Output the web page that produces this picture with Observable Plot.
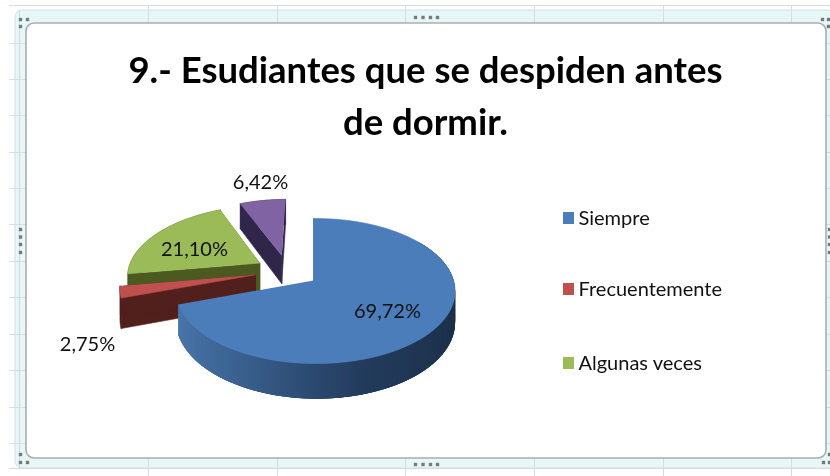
<!DOCTYPE html>
<html><head><meta charset="utf-8">
<style>html,body{margin:0;padding:0;background:#fff}svg{display:block;filter:blur(.45px)}</style>
<script src="https://cdn.jsdelivr.net/npm/d3@7"></script>
<script src="https://cdn.jsdelivr.net/npm/@observablehq/plot@0.6"></script>
</head><body><script>
// Data
const categories = ["Siempre", "Frecuentemente", "Algunas veces", ""];
const values = [69.72, 2.75, 21.10, 6.42];
const labels = ["69,72%", "2,75%", "21,10%", "6,42%"];
const titleLines = ["9.- Esudiantes que se despiden antes", "de dormir."];
const legendNames = categories.slice(0, 3);

// Styles
const topColors = ["#4b7dba", "#c0504d", "#9bbb59", "#7f63a3"];
const wallColors = ["#2f5079", "#511f1c", "#4a5a20", "#30264a"];
const font = "Lato, Carlito, sans-serif";

// Layout of the tilted pie (view projection of a unit disc)
const view = {x0: 313, y0: 280, c: 138, a: 71, b: 0.145, d: -0.015, h: 30, explode: 0.24};
const labelAt = [[387, 311], [87, 344], [194, 249], [260, 182]];
const legendY = [218, 289, 363];
const gridX = [148, 277, 405, 534, 663, 791];
const gridY = [5, 43, 79, 115, 152, 188, 224, 261, 297, 334, 370, 407, 443, 468];
const handleMid = [415, 422.5, 430, 437];
const handleSide = [229, 236.5, 244, 252];
const handleCorners = [[20,19],[27,19],[20,26],[822,19],[828,19],[828,26],[823,462],[829,462],[829,454],[20,462],[27,462],[20,454]];

// Projection from disc to picture
const project = (U, V, z = 0) => {
  const den = 1 + view.b * V + view.d * U;
  return {x: view.x0 + view.c * U / den, y: view.y0 - view.a * V / den + z * view.h / den};
};
const arcs = d3.pie().sort(null).value(d => d)(values);
const mid = a => (a.startAngle + a.endAngle) / 2;
const blueShift = [Math.sin(mid(arcs[0])), Math.cos(mid(arcs[0]))];
const centre = arcs.map(a => [
  view.explode * (Math.sin(mid(a)) - blueShift[0]),
  view.explode * (Math.cos(mid(a)) - blueShift[1])
]);
const rimPoint = (i, t, z = 0) => project(centre[i][0] + Math.sin(t), centre[i][1] + Math.cos(t), z);
const hubPoint = (i, z = 0) => project(centre[i][0], centre[i][1], z);
const rim = (i, n = 90) => d3.range(n + 1).map(k => arcs[i].startAngle + (arcs[i].endAngle - arcs[i].startAngle) * k / n);

const topPoly = i => [hubPoint(i), ...rim(i).map(t => rimPoint(i, t))];
const wallPolys = i => {
  const out = [];
  const hubT = hubPoint(i), hubB = hubPoint(i, 1);
  const first = arcs[i].startAngle, last = arcs[i].endAngle;
  out.push([hubT, hubB, rimPoint(i, first, 1), rimPoint(i, first)]);
  out.push([hubT, hubB, rimPoint(i, last, 1), rimPoint(i, last)]);
  out.push([...rim(i).map(t => rimPoint(i, t)), ...rim(i).reverse().map(t => rimPoint(i, t, 1))]);
  return out;
};

const poly = [];
let pid = 0;
const addPoly = (pts, fill, stroke) => { const id = pid++; pts.forEach(p => poly.push({...p, id, fill, stroke: stroke || fill})); };

// Back to front: purple, green, red, blue
for (const i of [3, 2, 1]) {
  wallPolys(i).forEach(q => addPoly(q, wallColors[i]));
  addPoly(topPoly(i), topColors[i]);
}
// Blue: back cut wall, shaded rim strips, top
addPoly([hubPoint(0), hubPoint(0, 1), rimPoint(0, 0, 1), rimPoint(0, 0)], "#1d3350");
const shade = d3.scaleLinear().domain([-1, -0.5, 0.3, 1]).range(["#4a78ad", "#3b6291", "#233c5d", "#1c3049"]);
const tStart = Math.PI * 0.3, tEnd = arcs[0].endAngle;
// paint from the right end toward the left, every strip overlapping its neighbour
d3.range(tStart, tEnd, 0.02).forEach(t => {
  const t2 = Math.min(t + 0.08, tEnd);
  addPoly([rimPoint(0, t), rimPoint(0, t2), rimPoint(0, t2, 1), rimPoint(0, t, 1)], shade(Math.sin(t)), "none");
});
addPoly(topPoly(0), topColors[0]);

const gridColor = "#d5dbe8";
const box = (a, b, c, d) => [{a, b, c, d}];
const boxOpts = o => ({x1: "a", x2: "b", y1: "c", y2: "d", ...o});
const handles = [
  ...handleMid.flatMap(x => [[x, 17], [x, 464]]),
  ...handleSide.flatMap(y => [[20, y], [829, y]]),
  ...handleCorners
].map(([x, y]) => ({x, y}));

const plot = Plot.plot({
  width: 830, height: 476,
  margin: 0,
  x: {domain: [0, 830], range: [0, 830], axis: null},
  y: {domain: [0, 476], range: [0, 476], axis: null},
  style: {background: "#fff", fontFamily: font},
  marks: [
    // chart frame band
    Plot.rect(box(15, 834, 10, 468), boxOpts({fill: "#e7f7f8", stroke: "#d3dfe3", rx: 7})),
    // spreadsheet grid, seen through the band
    Plot.ruleY(gridY, {y: d => d, x1: () => 9, x2: () => 830, stroke: gridColor}),
    Plot.ruleX(gridX, {x: d => d, y1: () => 5, y2: () => 476, stroke: gridColor}),
    Plot.ruleX([19], {x: d => d, y1: () => 10, y2: () => 468, stroke: "#cdd9de"}),
    // chart area
    Plot.rect(box(26, 826, 23, 458), boxOpts({fill: "#fff", stroke: "#a9aeb0", strokeWidth: 1.6, rx: 8})),
    // size handles
    Plot.dot(handles, {x: "x", y: "y", symbol: "square", r: 1.9, fill: "#77797c"}),
    // pie
    Plot.line(poly, {x: "x", y: "y", z: "id", fill: d => d.fill, stroke: d => d.stroke, strokeWidth: 0.6, curve: "linear"}),
    // data labels
    Plot.text(labels.map((t, i) => ({t, x: labelAt[i][0], y: labelAt[i][1]})), {x: "x", y: "y", text: "t", fontSize: 20, fill: "#111"}),
    // legend
    Plot.rect(legendNames.map((n, i) => ({y: legendY[i], c: topColors[i]})), {x1: () => 563, x2: () => 574, y1: d => d.y - 6, y2: d => d.y + 6, fill: "c"}),
    Plot.text(legendNames.map((n, i) => ({n, y: legendY[i]})), {x: () => 578, y: "y", text: "n", textAnchor: "start", fontSize: 20, fill: "#111"}),
    // title
    Plot.text(titleLines.map((t, i) => ({t, y: 71 + i * 52})), {x: () => 425, y: "y", text: "t", fontSize: 36.5, fontWeight: 700, fill: "#000"})
  ]
});
document.body.appendChild(plot);
</script></body></html>
